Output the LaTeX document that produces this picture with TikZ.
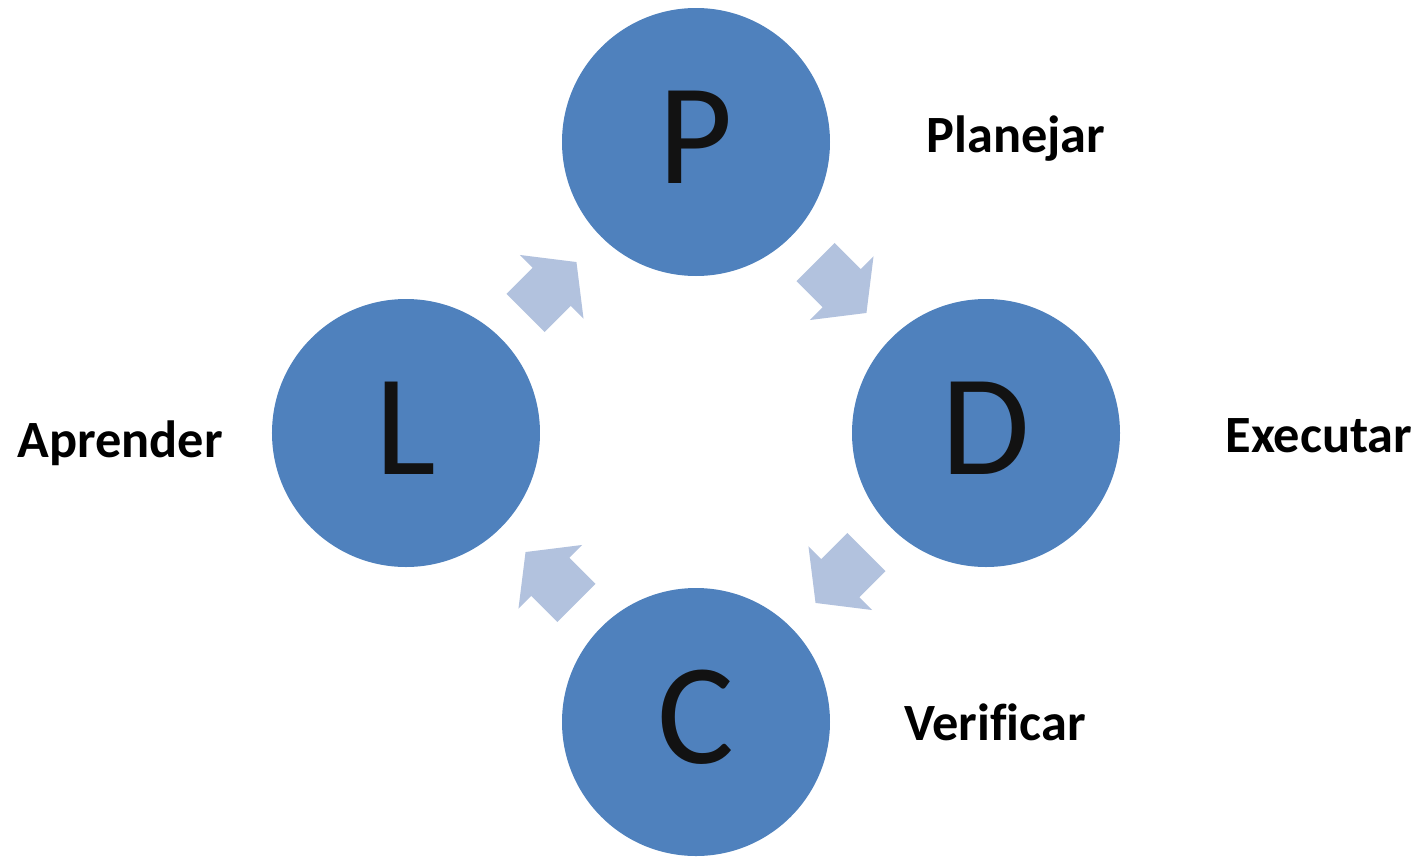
\documentclass[tikz,border=0pt]{standalone}
\usepackage{fontspec}
\setmainfont{Carlito}[Ligatures=NoCommon]
\usetikzlibrary{calc}
\begin{document}
\begin{tikzpicture}[x=0.1mm,y=0.1mm,
    etapa/.style={circle,fill=azul,inner sep=0pt,minimum size=26.8mm,text=black!93,
        font=\fontsize{41pt}{48pt}\selectfont,text height=8.2mm,text depth=0mm},
    nombre/.style={anchor=base,font=\bfseries\fontsize{14.9pt}{18pt}\selectfont}]
        %colores
        \definecolor{azul}{HTML}{4F81BD}
        \definecolor{flecha}{HTML}{B2C2DE}

        \useasboundingbox (-696,-423) rectangle (732,433);

        % Circulos
        \node[etapa] (P) at (0,291) {P};
        \node[etapa] (D) at (290,0) {D};
        \node[etapa] (C) at (0,-289) {C};
        \node[etapa] (L) at (-290,0) {L};

        % Flechas entre circulos
        \foreach \desde/\hacia/\ang in {P/D/-45, D/C/-135, C/L/135, L/P/45}
        \fill[flecha,shift={($(\desde)!0.5!(\hacia)$)},rotate=\ang]
            (-36,-27) -- (1,-27) -- (1,-45) -- (36,0) -- (1,45) -- (1,27) -- (-36,27) -- cycle;

        % Nombres
        \node[nombre] (planejar) at (320,281) {Planejar};
        \node[nombre] (executar) at (623,-19) {Executar};
        \node[nombre] (verificar) at (299,-307) {Verificar};
        \node[nombre] (aprender) at (-576,-24) {Aprender};
    \end{tikzpicture}
\end{document}
